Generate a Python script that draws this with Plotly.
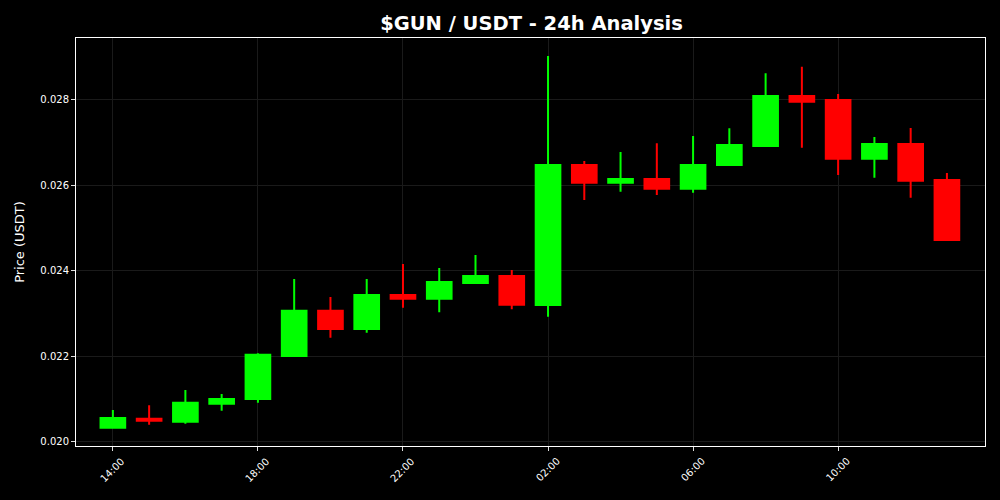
import pandas as pd
import plotly.graph_objects as go

# hourly candles, 14:00 -> 13:00 next day
times = pd.date_range('2024-05-01 14:00', periods=24, freq='h')
opens = [0.020335, 0.020545, 0.020475, 0.020896, 0.021006, 0.022012, 0.023071, 0.022643,
         0.023439, 0.023352, 0.023719, 0.023883, 0.023205, 0.026480, 0.026066, 0.026152,
         0.025925, 0.026480, 0.026924, 0.028094, 0.028000, 0.026627, 0.026971, 0.026129]
highs = [0.020749, 0.020858, 0.021216, 0.021123, 0.022075, 0.023813, 0.023392, 0.023813,
         0.024164, 0.024070, 0.024374, 0.024023, 0.029029, 0.026573, 0.026784, 0.026987,
         0.027158, 0.027338, 0.028625, 0.028779, 0.028140, 0.027135, 0.027345, 0.026292]
lows = [0.020330, 0.020405, 0.020428, 0.020732, 0.020919, 0.021995, 0.022440, 0.022557,
        0.023142, 0.023034, 0.023719, 0.023104, 0.022931, 0.025661, 0.025855, 0.025778,
        0.025832, 0.026456, 0.026920, 0.026884, 0.026246, 0.026183, 0.025715, 0.024702]
closes = [0.020561, 0.020498, 0.020919, 0.021006, 0.022042, 0.023071, 0.022643, 0.023439,
          0.023352, 0.023743, 0.023883, 0.023212, 0.026480, 0.026066, 0.026152, 0.025925,
          0.026480, 0.026947, 0.028094, 0.027960, 0.026627, 0.026971, 0.026112, 0.024725]
y_ticks = [0.020, 0.022, 0.024, 0.026, 0.028]

fig = go.Figure(
    go.Candlestick(
        x=times, open=opens, high=highs, low=lows, close=closes,
        increasing={'line': {'color': '#00ff00', 'width': 2}, 'fillcolor': '#00ff00'},
        decreasing={'line': {'color': '#ff0000', 'width': 2}, 'fillcolor': '#ff0000'},
        whiskerwidth=0,
        showlegend=False,
    )
)

tick_times = times[::4]
fig.update_layout(
    width=1000, height=500,
    paper_bgcolor='black', plot_bgcolor='black',
    margin={'l': 76, 'r': 15, 't': 38, 'b': 54},
    font={'family': 'DejaVu Sans', 'color': 'white', 'size': 10},
    title={'text': '<b>$GUN / USDT - 24h Analysis</b>', 'x': 0.5315, 'xanchor': 'center',
           'y': 0.954, 'yanchor': 'middle', 'font': {'size': 19.5, 'color': 'white'}},
    boxgap=0.32, boxgroupgap=0,
)

# x tick labels as rotated annotations, centred on the tick like matplotlib does
for t in tick_times:
    fig.add_annotation(
        x=t, y=0, xref='x', yref='paper', text=t.strftime('%H:%M'),
        textangle=-45, xanchor='center', yanchor='top', yshift=-7,
        showarrow=False, font={'size': 10, 'color': 'white'},
    )

fig.update_xaxes(
    type='date', rangeslider_visible=False,
    range=[times[0] - pd.Timedelta(minutes=61), times[0] + pd.Timedelta(minutes=1443)],
    tickvals=tick_times, showticklabels=False,
    ticks='outside', ticklen=4, tickcolor='#dddddd',
    showline=True, linecolor='white', linewidth=1, mirror=True,
    showgrid=True, gridcolor='#1a1a1a', gridwidth=1, zeroline=False,
)
fig.update_yaxes(
    range=[0.019906, 0.02945],
    tickvals=y_ticks, tickformat='.3f', ticks='outside', ticklen=4, tickcolor='#dddddd',
    showline=True, linecolor='white', linewidth=1, mirror=True,
    showgrid=True, gridcolor='#1a1a1a', gridwidth=1, zeroline=False,
    title={'text': 'Price (USDT)', 'font': {'size': 13}, 'standoff': 12},
)

# drop the default page margin so the figure sits at the window corner
fig.write_html('out.html', config={'displayModeBar': False},
               post_script="document.body.style.margin='0';")
